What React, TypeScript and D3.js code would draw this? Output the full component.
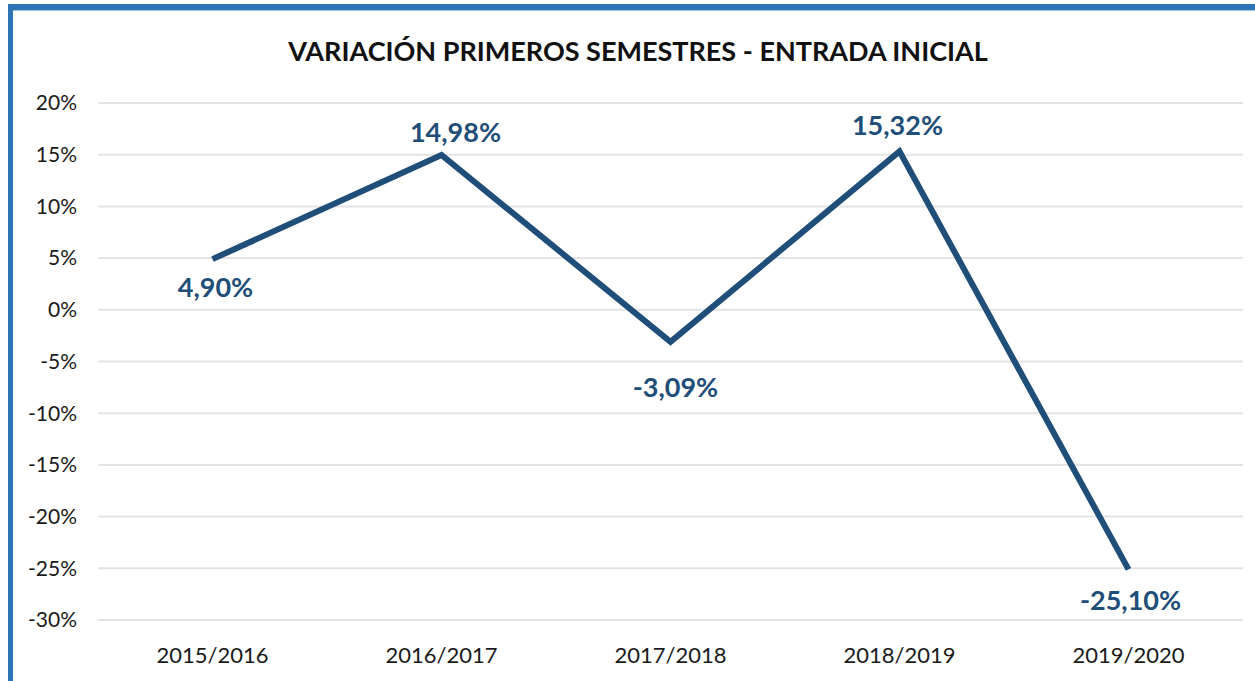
import React from 'react';
import * as d3 from 'd3';

const categories = ['2015/2016', '2016/2017', '2017/2018', '2018/2019', '2019/2020'];
const values = [4.9, 14.98, -3.09, 15.32, -25.1];
const labels = ['4,90%', '14,98%', '-3,09%', '15,32%', '-25,10%'];
const yTicks = [20, 15, 10, 5, 0, -5, -10, -15, -20, -25, -30];

const W = 1255;
const H = 681;
const lineColor = '#1f4e79';
const font = 'Lato, "Open Sans", sans-serif';

// desplazamiento de cada etiqueta respecto a su punto (como en el excel original)
const labelDx = [3, 14, 5, -2, 2];
const labelDy = [38, -13, 55, -16, 41];

export default function App() {
  const x = d3.scaleBand().domain(categories).range([98, 1243]);
  const y = d3.scaleLinear().domain([-30, 20]).range([620, 103]);
  const cx = (c: string) => x(c)! + x.bandwidth() / 2;

  const line = d3
    .line<number>()
    .x((_, i) => cx(categories[i]))
    .y(d => y(d));

  return (
    <div style={{ position: 'absolute', left: 0, top: 0 }}>
      <svg width={W} height={H} style={{ display: 'block', background: '#fff' }}>
        {/* marco azul del grafico */}
        <line x1={8} x2={W} y1={7} y2={7} stroke="#2e75b6" strokeWidth={6} />
        <line x1={8} x2={W} y1={10.5} y2={10.5} stroke="#9dc3e6" strokeWidth={1} />
        <line x1={10.5} x2={10.5} y1={4} y2={H} stroke="#2e75b6" strokeWidth={5} />

        <text
          x={638}
          y={61}
          textAnchor="middle"
          fontFamily={font}
          fontWeight="bold"
          fontSize={27}
          fill="#111"
        >
          VARIACIÓN PRIMEROS SEMESTRES - ENTRADA INICIAL
        </text>

        {yTicks.map(t => (
          <g key={t}>
            <line x1={98} x2={1243} y1={y(t)} y2={y(t)} stroke="#e3e3e3" strokeWidth={2} />
            <text
              x={77}
              y={y(t)}
              dy="0.35em"
              textAnchor="end"
              fontFamily={font}
              fontSize={21}
              fill="#1a1a1a"
            >
              {t}%
            </text>
          </g>
        ))}

        {categories.map(c => (
          <text
            key={c}
            x={cx(c)}
            y={663}
            textAnchor="middle"
            fontFamily={font}
            fontSize={22}
            fill="#1a1a1a"
          >
            {c}
          </text>
        ))}

        <path
          d={line(values) || ''}
          fill="none"
          stroke={lineColor}
          strokeWidth={6}
          strokeLinejoin="miter"
        />

        {values.map((v, i) => (
          <text
            key={i}
            x={cx(categories[i]) + labelDx[i]}
            y={y(v) + labelDy[i]}
            textAnchor="middle"
            fontFamily={font}
            fontWeight="bold"
            fontSize={27}
            fill={lineColor}
          >
            {labels[i]}
          </text>
        ))}
      </svg>
    </div>
  );
}
